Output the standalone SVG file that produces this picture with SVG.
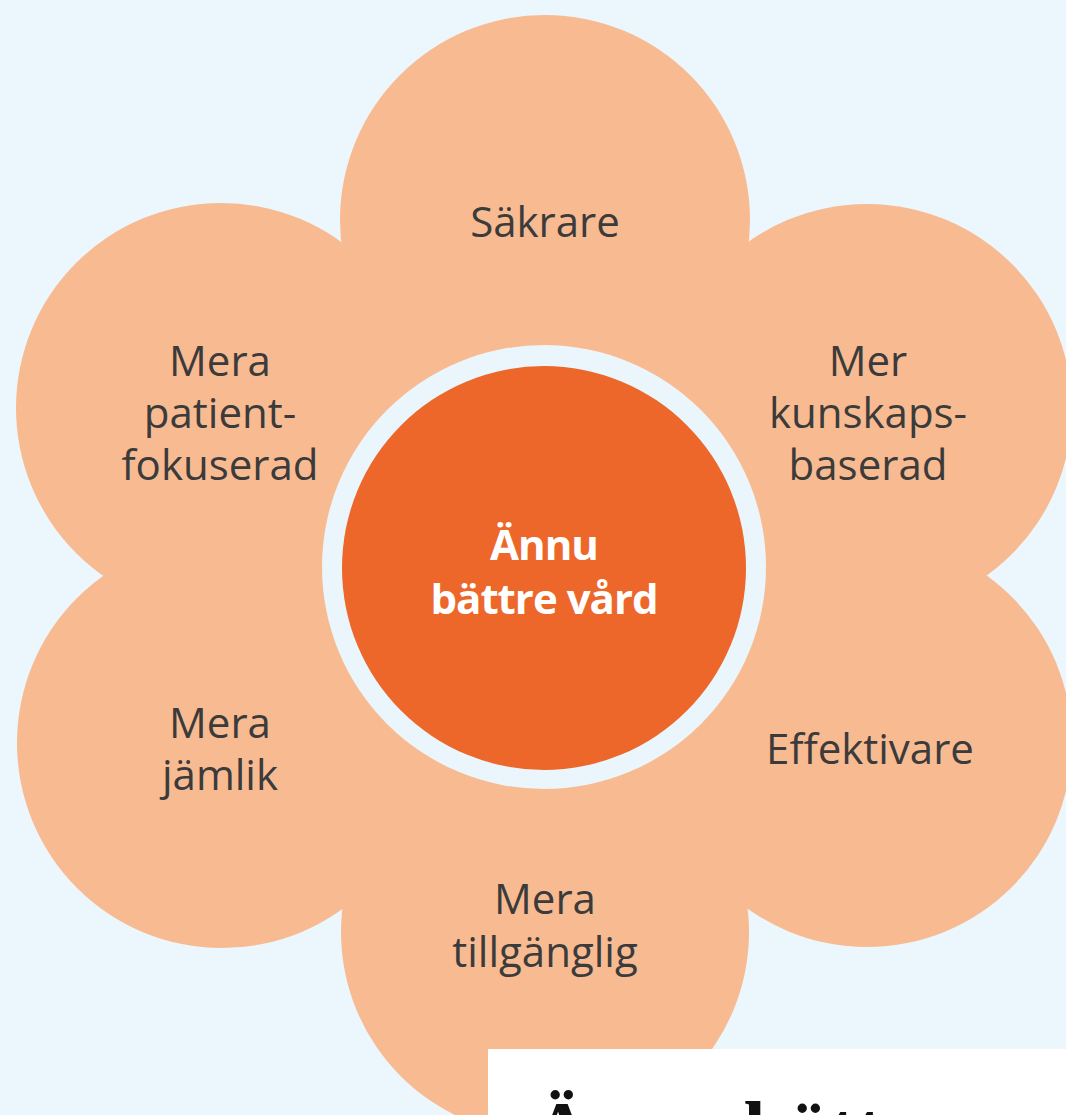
<svg xmlns="http://www.w3.org/2000/svg" width="1066" height="1115" viewBox="0 0 1066 1115">
  <style>
    .petal { fill: #F8BA91; }
    .lbl { font-family: "Open Sans", "Noto Sans", sans-serif; font-size: 42px; fill: #3b3b3b; text-anchor: middle; }
    .core { font-family: "Open Sans", "Noto Sans", sans-serif; font-weight: bold; font-size: 42px; fill: #ffffff; text-anchor: middle; letter-spacing: -1px; }
    .title { font-family: "Liberation Serif", "Times New Roman", serif; font-weight: bold; font-size: 80px; fill: #111111; }
  </style>
  <rect x="0" y="0" width="1066" height="1115" fill="#EBF6FD"/>
  <g id="flower">
    <circle class="petal" cx="544" cy="576" r="330"/>
    <circle id="petal-top" class="petal" cx="545" cy="220" r="205"/>
    <circle id="petal-upper-right" class="petal" cx="867" cy="409" r="205"/>
    <circle id="petal-lower-right" class="petal" cx="867" cy="742" r="205"/>
    <circle id="petal-bottom" class="petal" cx="545" cy="932" r="204"/>
    <circle id="petal-lower-left" class="petal" cx="222" cy="743" r="205"/>
    <circle id="petal-upper-left" class="petal" cx="221" cy="408" r="205"/>
  </g>
  <g id="node-center">
    <circle cx="544" cy="567" r="222" fill="#EBF5FC"/>
    <circle cx="544" cy="568" r="202" fill="#EC6729"/>
    <text class="core" x="544" y="560">Ännu</text>
    <text class="core" x="544" y="614">bättre vård</text>
  </g>
  <g id="node-sakrare">
    <text class="lbl" x="545" y="237">Säkrare</text>
  </g>
  <g id="node-kunskapsbaserad">
    <text class="lbl" x="868" y="376">Mer</text>
    <text class="lbl" x="868" y="428">kunskaps-</text>
    <text class="lbl" x="868" y="480">baserad</text>
  </g>
  <g id="node-effektivare">
    <text class="lbl" x="870" y="764">Effektivare</text>
  </g>
  <g id="node-tillganglig">
    <text class="lbl" x="545" y="914">Mera</text>
    <text class="lbl" x="545" y="967">tillgänglig</text>
  </g>
  <g id="node-jamlik">
    <text class="lbl" x="220" y="738">Mera</text>
    <text class="lbl" x="220" y="790">jämlik</text>
  </g>
  <g id="node-patientfokuserad">
    <text class="lbl" x="220" y="376">Mera</text>
    <text class="lbl" x="220" y="428">patient-</text>
    <text class="lbl" x="220" y="480">fokuserad</text>
  </g>
  <g id="caption">
    <rect x="488" y="1049" width="578" height="66" fill="#ffffff"/>
    <text class="title" x="533" y="1157">Ännu bättre</text>
  </g>
</svg>
